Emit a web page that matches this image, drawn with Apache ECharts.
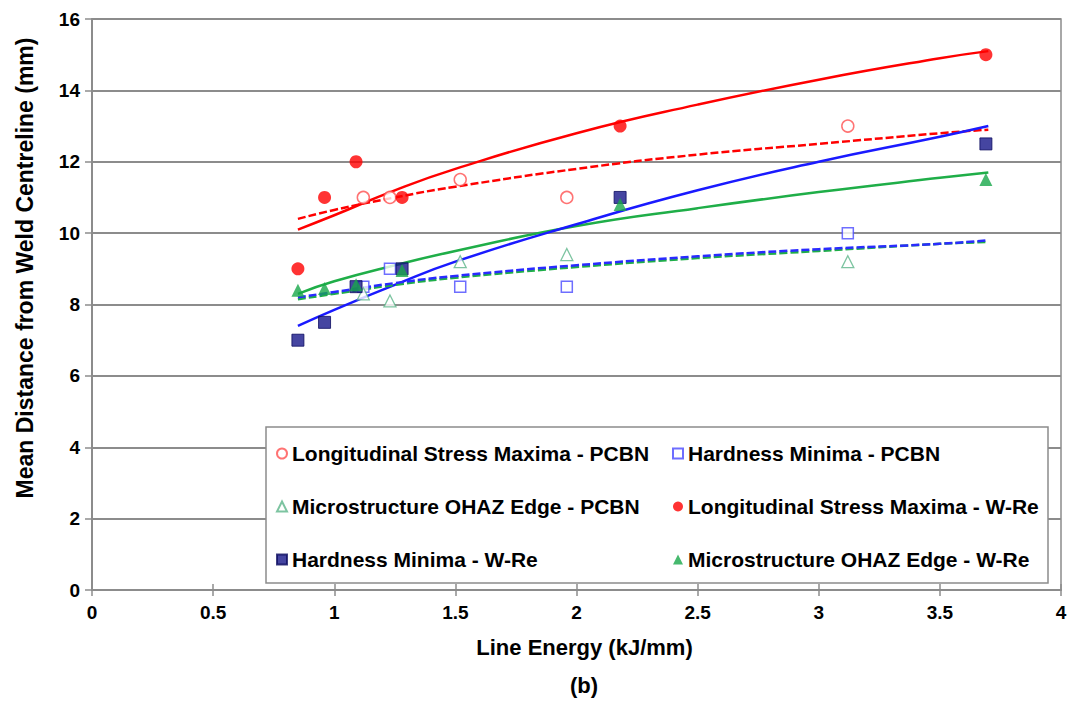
<!DOCTYPE html>
<html>
<head>
<meta charset="utf-8">
<script src="https://cdn.jsdelivr.net/npm/echarts@6.0.0/dist/echarts.min.js"></script>
<style>
  html, body { margin: 0; padding: 0; background: #fff; }
  #mychart { width: 1072px; height: 702px; }
</style>
</head>
<body>
<div id="mychart"></div>
<script>
  // measured points - PCBN tool
  var xPCBN = [1.12, 1.23, 1.52, 1.96, 3.12];
  var lsPCBN = [11, 11, 11.5, 11, 13];
  var hmPCBN = [8.5, 9, 8.5, 8.5, 10];
  var msPCBN = [8.3, 8.1, 9.2, 9.4, 9.2];

  // measured points - W-Re tool
  var xWRe = [0.85, 0.96, 1.09, 1.28, 2.18, 3.69];
  var lsWRe = [9, 11, 12, 11, 13, 15];
  var hmWRe = [7, 7.5, 8.5, 9, 11, 12.5];
  var msWRe = [8.4, 8.45, 8.55, 8.95, 10.8, 11.5];

  // trend lines
  var xTrend = [0.85, 1, 1.25, 1.5, 2, 2.5, 3, 3.5, 3.7];
  var lsWReTrend = [10.1, 10.5, 11.2, 11.8, 12.8, 13.6, 14.3, 14.9, 15.1];
  var lsPCBNTrend = [10.4, 10.65, 11.0, 11.3, 11.8, 12.2, 12.5, 12.8, 12.9];
  var hmWReTrend = [7.4, 7.85, 8.55, 9.2, 10.25, 11.2, 12.0, 12.7, 13.0];
  var msWReTrend = [8.3, 8.65, 9.1, 9.5, 10.2, 10.7, 11.15, 11.55, 11.7];
  var hmPCBNTrend = [8.2, 8.35, 8.6, 8.8, 9.1, 9.35, 9.55, 9.7, 9.8];
  var msPCBNTrend = [8.15, 8.3, 8.55, 8.75, 9.05, 9.3, 9.5, 9.7, 9.75];

  var xTicks = [0, 0.5, 1, 1.5, 2, 2.5, 3, 3.5, 4];
  var yTicks = [0, 2, 4, 6, 8, 10, 12, 14, 16];

  var FONT = 'Liberation Sans, Arial, sans-serif';

  function pairs(xs, ys) {
    return ys.map(function (v, i) { return [xs[i], v]; });
  }

  function scatter(name, xs, ys, symbol, size, style) {
    return {
      name: name,
      type: 'scatter',
      symbol: symbol,
      symbolSize: size,
      data: pairs(xs, ys),
      itemStyle: style,
      z: 3
    };
  }

  function trend(xs, ys, color, dashed) {
    return {
      type: 'line',
      data: pairs(xs, ys),
      smooth: true,
      showSymbol: false,
      silent: true,
      lineStyle: { color: color, width: 2.5, type: dashed ? [8, 3] : 'solid' },
      z: 2
    };
  }

  var legendText = { color: '#000', fontFamily: FONT, fontSize: 21, fontWeight: 'bold', lineHeight: 21 };

  var opt = {
    animation: false,
    backgroundColor: '#fff',
    textStyle: { fontFamily: FONT },
    title: {
      text: '(b)',
      left: 570,
      top: 674,
      padding: 0,
      textStyle: { fontFamily: FONT, fontSize: 22, fontWeight: 'bold', color: '#000' }
    },
    grid: {
      left: 92,
      right: 11,
      top: 19,
      bottom: 112,
      show: true,
      borderColor: '#8c8c8c',
      borderWidth: 1.5
    },
    legend: [{
      orient: 'vertical',
      left: 276,
      top: 443,
      itemWidth: 10,
      itemHeight: 10,
      itemGap: 32,
      padding: 0,
      z: 10,
      textStyle: legendText,
      data: [
        { name: 'Longitudinal Stress Maxima - PCBN', icon: 'circle' },
        { name: 'Microstructure OHAZ Edge - PCBN', icon: 'triangle' },
        { name: 'Hardness Minima - W-Re', icon: 'rect' }
      ]
    }, {
      orient: 'vertical',
      left: 672,
      top: 443,
      itemWidth: 10,
      itemHeight: 10,
      itemGap: 32,
      padding: 0,
      z: 10,
      textStyle: legendText,
      data: [
        { name: 'Hardness Minima - PCBN', icon: 'rect' },
        { name: 'Longitudinal Stress Maxima - W-Re', icon: 'circle' },
        { name: 'Microstructure OHAZ Edge - W-Re', icon: 'triangle' }
      ]
    }],
    graphic: [{
      // legend frame, covers the grid lines behind it
      type: 'rect',
      z: 5,
      shape: { x: 266, y: 427, width: 782, height: 156 },
      style: { fill: '#fff', stroke: '#8c8c8c', lineWidth: 1.5 }
    }, {
      type: 'text',
      x: 25,
      y: 268,
      rotation: Math.PI / 2,
      style: {
        text: 'Mean Distance from Weld Centreline (mm)',
        font: 'bold 23px ' + FONT,
        fill: '#000',
        textAlign: 'center',
        textVerticalAlign: 'middle'
      }
    }],
    xAxis: [{
      type: 'value',
      min: xTicks[0],
      max: xTicks[xTicks.length - 1],
      interval: 0.5,
      name: 'Line Energy (kJ/mm)',
      nameLocation: 'middle',
      nameGap: 46,
      nameTextStyle: { fontFamily: FONT, fontSize: 22, fontWeight: 'bold', color: '#000', padding: [0, 0, 0, 16] },
      axisLine: { lineStyle: { color: '#8c8c8c', width: 2 } },
      axisTick: { length: 6, lineStyle: { color: '#8c8c8c', width: 1.5 } },
      axisLabel: {
        margin: 13,
        color: '#000',
        fontFamily: FONT,
        fontSize: 19,
        fontWeight: 'bold',
        formatter: function (v) { return String(v); }
      },
      splitLine: { show: false }
    }, {
      // second copy only for the ticks that cross into the plot
      type: 'value',
      position: 'bottom',
      min: xTicks[0],
      max: xTicks[xTicks.length - 1],
      interval: 0.5,
      axisLine: { show: false },
      axisTick: { inside: true, length: 6, lineStyle: { color: '#8c8c8c', width: 1.5 } },
      axisLabel: { show: false },
      splitLine: { show: false }
    }],
    yAxis: {
      type: 'value',
      min: yTicks[0],
      max: yTicks[yTicks.length - 1],
      interval: 2,
      axisLine: { show: true, lineStyle: { color: '#8c8c8c', width: 2 } },
      axisTick: { show: true, length: 7, lineStyle: { color: '#8c8c8c', width: 1.5 } },
      axisLabel: { margin: 12, color: '#000', fontFamily: FONT, fontSize: 19, fontWeight: 'bold' },
      splitLine: { lineStyle: { color: '#8c8c8c', width: 2 } }
    },
    series: [
      trend(xTrend, lsWReTrend, '#ff0000', false),
      trend(xTrend, lsPCBNTrend, '#ff0000', true),
      trend(xTrend, msWReTrend, '#1fae48', false),
      trend(xTrend, hmWReTrend, '#1a1aff', false),
      trend(xTrend, msPCBNTrend, '#1fae48', true),
      trend(xTrend, hmPCBNTrend, '#2a2aff', true),
      scatter('Longitudinal Stress Maxima - PCBN', xPCBN, lsPCBN, 'circle', 12,
        { color: '#fff', borderColor: '#ff5050', borderWidth: 1.5 }),
      scatter('Hardness Minima - PCBN', xPCBN, hmPCBN, 'rect', 11,
        { color: '#fff', borderColor: '#4a4aff', borderWidth: 1.5 }),
      scatter('Microstructure OHAZ Edge - PCBN', xPCBN, msPCBN, 'triangle', 12,
        { color: '#fff', borderColor: '#5cb58a', borderWidth: 1.3 }),
      scatter('Longitudinal Stress Maxima - W-Re', xWRe, lsWRe, 'circle', 13,
        { color: '#ff0000' }),
      scatter('Hardness Minima - W-Re', xWRe, hmWRe, 'rect', 12,
        { color: '#16168a', borderColor: '#0c0c60', borderWidth: 1 }),
      scatter('Microstructure OHAZ Edge - W-Re', xWRe, msWRe, 'triangle', 13,
        { color: '#18a84a' })
    ]
  };

  var myChart = echarts.init(document.getElementById('mychart'), null, { renderer: 'svg' });
  myChart.setOption(opt);
</script>
</body>
</html>
